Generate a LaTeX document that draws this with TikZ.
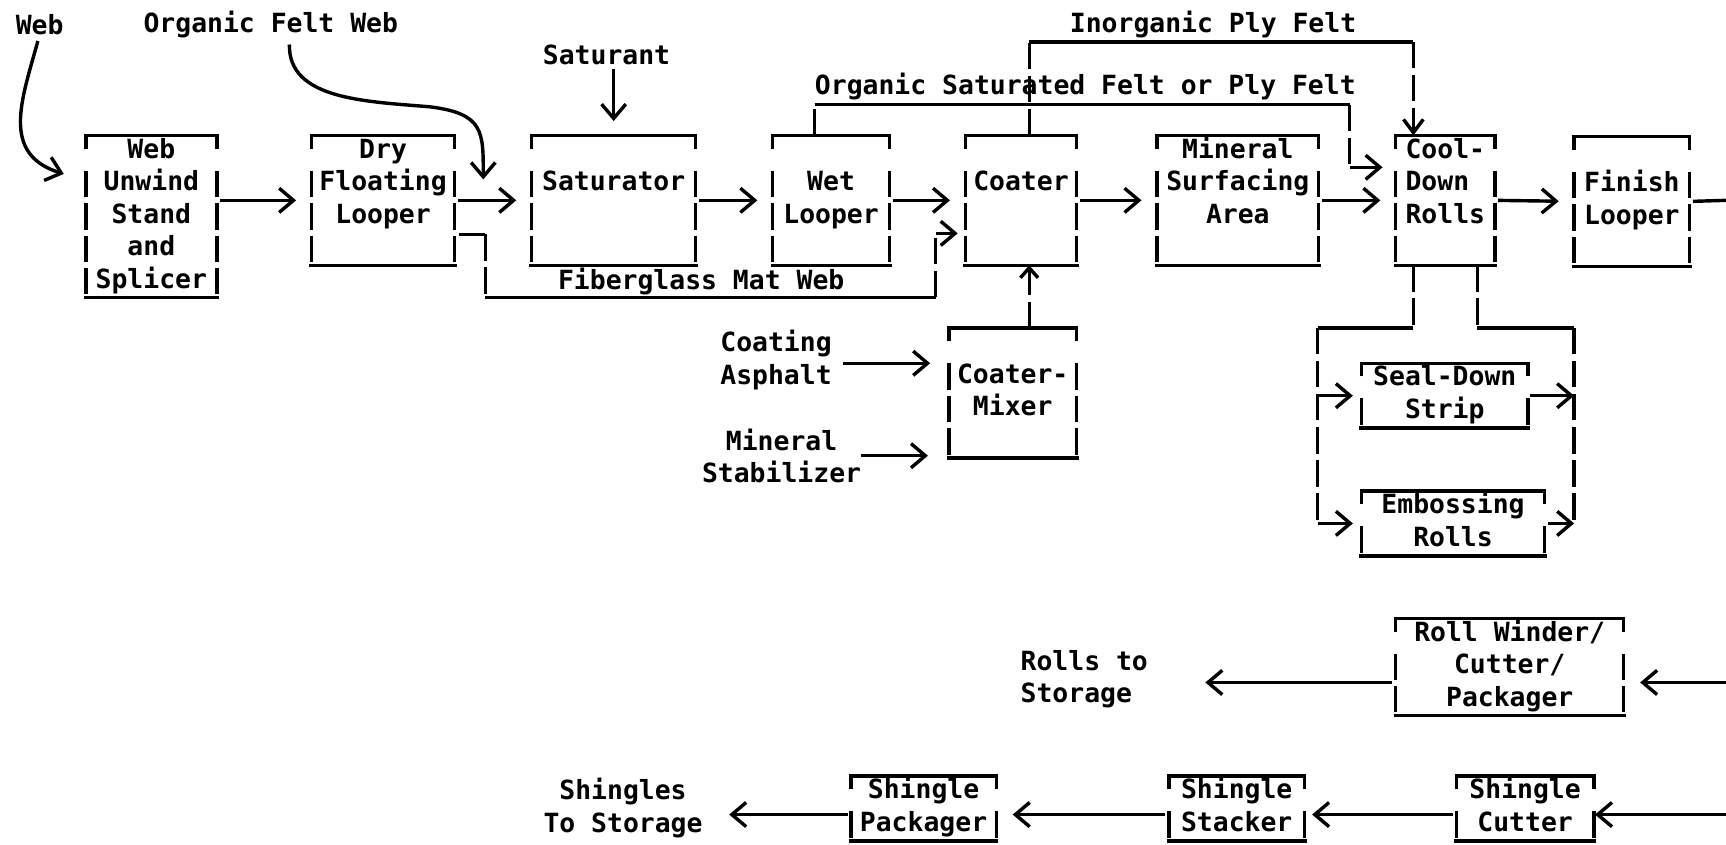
\documentclass[tikz,border=0pt]{standalone}
\usepackage{fontspec}
\newfontfamily\typewfont{DejaVu Sans Mono}
\usetikzlibrary{arrows.meta,calc}
\newcommand{\plantfont}{\typewfont\bfseries\fontsize{24}{29.5}\selectfont}

\begin{document}
\begin{tikzpicture}[x=1pt,y=-1pt,
  unitbox/.style={font=\plantfont,align=center,inner sep=0pt,outer sep=0pt,minimum width=#1},
  tag/.style={font=\plantfont,align=center,inner sep=0pt},
  frame/.style={line width=3.1pt},
  sideline/.style={line width=3.1pt,dash pattern=on 24pt off 5.5pt},
  pipe/.style={line width=3.1pt},
  vpipe/.style={line width=3.1pt,dash pattern=on 24pt off 6pt},
  flow/.style={line width=3.1pt,-{Straight Barb[length=13pt,width=22pt]}},
  main/.style={flow,shorten <=3pt,shorten >=14pt}]
\path[fill=white,use as bounding box] (0,0) rectangle (1568,767);
% process units
\node[unitbox=119pt] (web) at (137.5,196.75) {\strut Web\\\strut Unwind\\\strut Stand\\\strut and\\\strut Splicer};
\node[unitbox=130pt] (dry) at (348,182) {\strut Dry\\\strut Floating\\\strut Looper\\\strut};
\node[unitbox=149pt] (sat) at (557.5,182) {\strut\\\strut Saturator\\\strut\\\strut};
\node[unitbox=106pt] (wet) at (755,182) {\strut\\\strut Wet\\\strut Looper\\\strut};
\node[unitbox=101pt] (coater) at (927.5,182) {\strut\\\strut Coater\\\strut\\\strut};
\node[unitbox=147pt] (mineral) at (1124.5,182) {\strut Mineral\\\strut Surfacing\\\strut Area\\\strut};
\node[unitbox=90pt,align=left] (cool) at (1313,182) {\strut Cool-\\\strut Down\\\strut Rolls\\\strut};
\node[unitbox=105pt] (finish) at (1482.5,183) {\strut\\\strut Finish\\\strut Looper\\\strut};
\node[unitbox=116pt] (mixer) at (920,357) {\strut\\\strut Coater-\\\strut Mixer\\\strut};
\node[unitbox=151pt] (seal) at (1312.5,359.5) {\strut Seal-Down\\\strut Strip};
\node[unitbox=166pt] (emboss) at (1320,475.5) {\strut Embossing\\\strut Rolls};
\node[unitbox=207pt] (winder) at (1371.5,606) {\strut Roll Winder/\\\strut Cutter/\\\strut Packager};
\node[unitbox=125pt] (cutter) at (1385.5,734.5) {\strut Shingle\\\strut Cutter};
\node[unitbox=123pt] (stacker) at (1123.5,734.5) {\strut Shingle\\\strut Stacker};
\node[unitbox=132pt] (packager) at (839,734.5) {\strut Shingle\\\strut Packager};
% typed frames: solid top and bottom, broken sides
\foreach \n in {web,dry,sat,wet,coater,mineral,cool,finish,mixer,seal,emboss,winder,cutter,stacker,packager}{
  \draw[frame] ([yshift=-12pt]\n.north west) -- (\n.north west) -- (\n.north east) -- ([yshift=-12pt]\n.north east);
  \draw[frame] ([xshift=-2pt]\n.south west) -- ([xshift=2pt]\n.south east);
  \draw[sideline] ([yshift=-32pt]\n.north west) -- ([yshift=3pt]\n.south west);
  \draw[sideline] ([yshift=-32pt]\n.north east) -- ([yshift=3pt]\n.south east);
}
% feeds and products
\node[tag] (webin) at (36,22) {Web};
\node[tag] (feltin) at (246,22) {Organic Felt Web};
\node[tag] (satin) at (551,50) {Saturant};
\node[tag] (inorg) at (1102,22) {Inorganic Ply Felt};
\node[tag] (orgsat) at (986,79) {Organic Saturated Felt or Ply Felt};
\node[tag] (glass) at (637,256) {Fiberglass Mat Web};
\node[tag] (asph) at (705,327) {Coating\\Asphalt};
\node[tag] (stab) at (710,414) {Mineral\\Stabilizer};
\node[tag,align=left] (rollout) at (985,617) {Rolls to\\Storage};
\node[tag] (shout) at (566,734) {Shingles\\To Storage};
% main line
\draw[main] (web.east |- dry.east) -- (dry.west);
\foreach \a/\b in {dry/sat,sat/wet,wet/coater,coater/mineral,mineral/cool,cool/finish}
  \draw[main] (\a.east) -- (\b.west);
\coordinate (outA) at (1568,182);
\draw[pipe,shorten <=3pt] (finish.east) -- (outA);
% web feeds
\coordinate (webtip) at (58,158);
\coordinate (felttip) at (439,163);
\draw[flow,shorten <=6pt] (webin.south) .. controls (20,90) and (0,140) .. (webtip);
\draw[flow,shorten <=6pt] (feltin.south -| 263,0) .. controls (262,90) and (330,92) .. (390,97)
  .. controls (440,103) and (439,120) .. (felttip);
\draw[flow,shorten <=3pt,shorten >=13pt] (sat.north |- satin.south) -- (sat.north);
% fiberglass by-pass
\coordinate (fgA) at (441,213);
\coordinate (fgB) at (441,270);
\coordinate (fgC) at (850,270);
\coordinate (fgD) at (850,212);
\draw[pipe,shorten <=4pt] (dry.east |- fgA) -- (fgA);
\draw[vpipe] (fgA) -- (fgB);
\draw[pipe] (fgB) -- (fgC);
\draw[vpipe] (fgC) -- (fgD);
\draw[flow,shorten >=7pt] (fgD) -- (coater.west |- fgD);
% felt by-passes
\coordinate (inA) at (935,38);
\coordinate (inB) at (1284,38);
\draw[vpipe] (coater.north -| inA) -- (inA);
\draw[pipe] (inA) -- (inB);
\draw[vpipe,-{Straight Barb[length=12pt,width=18pt]}] (inB) -- (cool.north -| inB);
\coordinate (osA) at (740,95);
\coordinate (osB) at (1226,95);
\coordinate (osC) at (1226,152);
\draw[vpipe] (wet.north -| osA) -- (osA);
\draw[pipe] (osA) -- (osB);
\draw[vpipe] (osB) -- (osC);
\draw[flow,shorten >=12pt] (osC) -- (cool.west |- osC);
% coating
\draw[vpipe,-{Straight Barb[length=9pt,width=16pt]}] (mixer.north -| inA) -- (coater.south -| inA);
\draw[flow,shorten <=10pt,shorten >=17pt] (asph.east |- 0,330) -- (mixer.west |- 0,330);
\draw[flow,shorten >=19pt] (stab.east) -- (mixer.west |- stab.east);
% seal-down strip and embossing
\coordinate (cdL) at (1284,298);
\coordinate (cdR) at (1342,298);
\coordinate (brL) at (1197,298);
\coordinate (brR) at (1430,298);
\draw[vpipe] (cool.south -| cdL) -- (cdL);
\draw[vpipe] (cool.south -| cdR) -- (cdR);
\draw[pipe] (cdL) -- (brL);
\draw[pipe] (cdR) -- (brR);
\draw[vpipe] (brL) -- (brL |- emboss.west);
\draw[vpipe] (brR) -- (brR |- emboss.east);
\draw[flow,shorten >=8pt] (brL |- seal.west) -- (seal.west);
\draw[flow,shorten >=8pt] (brL |- emboss.west) -- (emboss.west);
\draw[flow,shorten <=2pt] (seal.east) -- (brR |- seal.east);
\draw[flow,shorten <=3pt] (emboss.east) -- (brR |- emboss.east);
% finishing
\coordinate (edgeB) at (1568,620);
\coordinate (edgeC) at (1568,740);
\draw[flow,shorten >=15pt] (edgeB) -- (winder.east |- edgeB);
\draw[flow,shorten <=3pt,shorten >=52pt] (winder.west |- edgeB) -- (rollout.east |- edgeB);
\draw[flow,shorten >=1pt] (edgeC) -- (cutter.east |- edgeC);
\draw[flow,shorten <=3pt,shorten >=7pt] (cutter.west |- edgeC) -- (stacker.east |- edgeC);
\draw[flow,shorten <=4pt,shorten >=15pt] (stacker.west |- edgeC) -- (packager.east |- edgeC);
\draw[flow,shorten <=3pt,shorten >=24pt] (packager.west |- edgeC) -- (shout.east |- edgeC);
\end{tikzpicture}
\end{document}
